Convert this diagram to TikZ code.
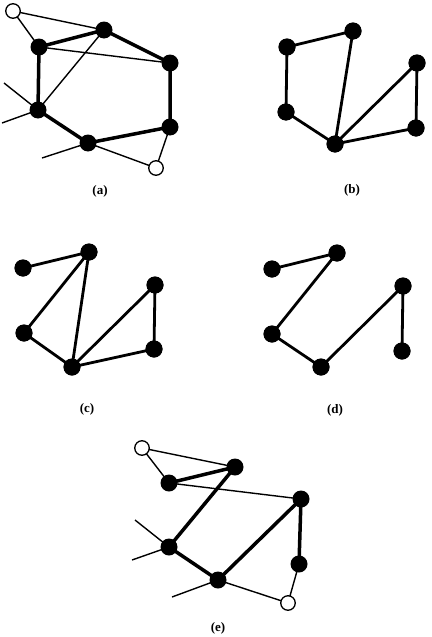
\documentclass[tikz,border=0pt]{standalone}
\usepackage{fontspec}
\setmainfont{Liberation Serif}
\begin{document}
\begin{tikzpicture}[x=1pt,y=-1pt,
  bn/.style={circle,fill=black,inner sep=0pt,minimum size=17pt},
  wn/.style={circle,draw=black,fill=white,line width=1.3pt,inner sep=0pt,minimum size=14.5pt},
  thk/.style={line width=3.5pt},
  med/.style={line width=2.8pt},
  thn/.style={line width=1.4pt},
  lab/.style={font=\bfseries\fontsize{13}{15}\selectfont}]
\useasboundingbox (0,0) rectangle (431,637);
% ---------- (a)
\coordinate (aw1) at (13,11);
\coordinate (aw2) at (156,168);
\coordinate (a1) at (39,47);
\coordinate (a2) at (104,30);
\coordinate (a3) at (170,63);
\coordinate (a4) at (170,127);
\coordinate (a5) at (88,143);
\coordinate (a6) at (38,110);
\coordinate (af1) at (4,83);
\coordinate (af2) at (2,123);
\coordinate (af3) at (42,158);
\draw[thn] (aw1)--(a1) (aw1)--(a2) (a1)--(a3) (a2)--(a6) (a6)--(af1) (a6)--(af2) (a5)--(af3) (a5)--(aw2) (a4)--(aw2);
\draw[thk,line join=round] (a1)--(a2)--(a3)--(a4)--(a5)--(a6)--cycle;
\node[wn] (nAw1) at (aw1) {};
\node[wn] (nAw2) at (aw2) {};
\foreach \n in {a1,a2,a3,a4,a5,a6} \node[bn] (n\n) at (\n) {};
\node[lab] (la) at (100,191) {(a)};
% ---------- (b)
\node[bn] (b1) at (287,47) {};
\node[bn] (b2) at (353,31) {};
\node[bn] (b3) at (417,63) {};
\node[bn] (b4) at (416,128) {};
\node[bn] (b5) at (335,144) {};
\node[bn] (b6) at (286,112) {};
\draw[med] (b1.center)--(b2.center) (b1.center)--(b6.center) (b6.center)--(b5.center) (b5.center)--(b2.center) (b5.center)--(b3.center) (b5.center)--(b4.center) (b3.center)--(b4.center);
\foreach \n in {b1,b2,b3,b4,b5,b6} \fill (\n) circle (8.5pt);
\node[lab] (lb) at (352,190) {(b)};
% ---------- (c)
\node[bn] (c1) at (23,268) {};
\node[bn] (c2) at (89,252) {};
\node[bn] (c3) at (155,285) {};
\node[bn] (c4) at (154,349) {};
\node[bn] (c5) at (72,367) {};
\node[bn] (c6) at (24,333) {};
\draw[med] (c1.center)--(c2.center) (c2.center)--(c6.center) (c2.center)--(c5.center) (c6.center)--(c5.center) (c5.center)--(c3.center) (c5.center)--(c4.center) (c3.center)--(c4.center);
\foreach \n in {c1,c2,c3,c4,c5,c6} \fill (\n) circle (8.5pt);
\node[lab] (lc) at (87,409) {(c)};
% ---------- (d)
\node[bn] (d1) at (272,269) {};
\node[bn] (d2) at (337,253) {};
\node[bn] (d3) at (403,286) {};
\node[bn] (d4) at (402,351) {};
\node[bn] (d5) at (321,367) {};
\node[bn] (d6) at (272,334) {};
\draw[med] (d1.center)--(d2.center) (d2.center)--(d6.center) (d6.center)--(d5.center) (d5.center)--(d3.center) (d3.center)--(d4.center);
\foreach \n in {d1,d2,d3,d4,d5,d6} \fill (\n) circle (8.5pt);
\node[lab] (ld) at (335,410) {(d)};
% ---------- (e)
\coordinate (ew1) at (142,448);
\coordinate (ew2) at (288,603);
\coordinate (e1) at (169,483);
\coordinate (e2) at (235,467);
\coordinate (e3) at (301,499);
\coordinate (e4) at (299,564);
\coordinate (e5) at (218,580);
\coordinate (e6) at (169,547);
\coordinate (ef1) at (135,520);
\coordinate (ef2) at (132,560);
\coordinate (ef3) at (172,597);
\draw[thn] (ew1)--(e1) (ew1)--(e2) (e1)--(e3) (e6)--(ef1) (e6)--(ef2) (e5)--(ef3) (e5)--(ew2) (e4)--(ew2);
\draw[thk,line join=round] (e1)--(e2)--(e6)--(e5)--(e3)--(e4);
\node[wn] (nEw1) at (ew1) {};
\node[wn] (nEw2) at (ew2) {};
\foreach \n in {e1,e2,e3,e4,e5,e6} \node[bn] (n\n) at (\n) {};
\node[lab] (le) at (218,628) {(e)};
\end{tikzpicture}
\end{document}
